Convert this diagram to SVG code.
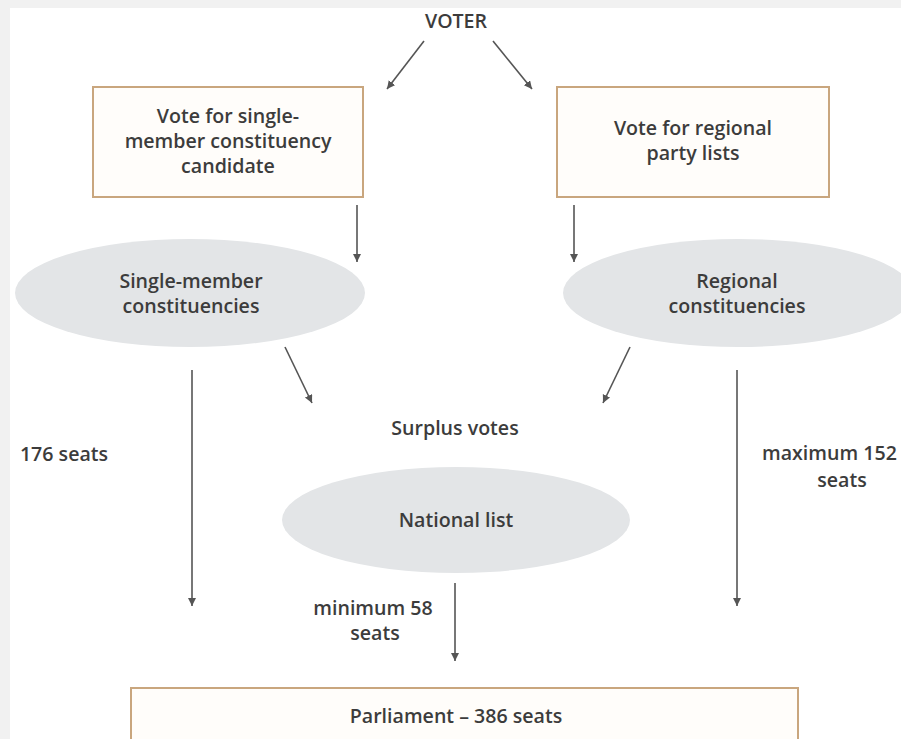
<svg xmlns="http://www.w3.org/2000/svg" width="901" height="739" viewBox="0 0 901 739">
<style>
text{font-family:"Open Sans","Liberation Sans",sans-serif;font-size:19.6px;font-weight:600;fill:#3c3c3c;text-anchor:middle}
.box{fill:#fffdfa;stroke:#c9a67e;stroke-width:2}
.ell{fill:#e3e5e7}
.conn{stroke:#555;stroke-width:1.6;fill:none;marker-end:url(#ah)}
</style>
<defs>
<marker id="ah" markerUnits="userSpaceOnUse" markerWidth="10" markerHeight="10" refX="8" refY="4" orient="auto">
<path d="M0,0 L8,4 L0,8 Z" fill="#555"/>
</marker>
</defs>
<rect x="0" y="0" width="901" height="739" fill="#f1f1f1"/>
<rect x="10" y="8" width="891" height="731" fill="#ffffff"/>
<g id="voter"><text x="456" y="28">VOTER</text></g>
<g id="box-single">
<rect class="box" x="93" y="87" width="270" height="110"/>
<text><tspan x="228" y="123">Vote for single-</tspan><tspan x="228" y="148">member constituency</tspan><tspan x="228" y="173">candidate</tspan></text>
</g>
<g id="box-regional">
<rect class="box" x="557" y="87" width="272" height="110"/>
<text><tspan x="693" y="135">Vote for regional</tspan><tspan x="693" y="160">party lists</tspan></text>
</g>
<g id="ell-single">
<ellipse class="ell" cx="190" cy="293" rx="175" ry="54"/>
<text><tspan x="191" y="288">Single-member</tspan><tspan x="191" y="313">constituencies</tspan></text>
</g>
<g id="ell-regional">
<ellipse class="ell" cx="738" cy="293" rx="175" ry="54"/>
<text><tspan x="737" y="288">Regional</tspan><tspan x="737" y="313">constituencies</tspan></text>
</g>
<g id="surplus"><text x="455" y="435">Surplus votes</text></g>
<g id="ell-national">
<ellipse class="ell" cx="456" cy="520" rx="174" ry="53"/>
<text x="456" y="527">National list</text>
</g>
<g id="lbl-176"><text x="64" y="461">176 seats</text></g>
<g id="lbl-max">
<text><tspan x="762" y="460" style="text-anchor:start">maximum 152</tspan><tspan x="842" y="487">seats</tspan></text>
</g>
<g id="lbl-min">
<text><tspan x="373" y="615">minimum 58</tspan><tspan x="375" y="640">seats</tspan></text>
</g>
<g id="parliament">
<rect class="box" x="131" y="688" width="667" height="60"/>
<text x="456" y="723">Parliament – 386 seats</text>
</g>
<g id="connectors">
<line class="conn" x1="424" y1="41" x2="387" y2="89"/>
<line class="conn" x1="493" y1="41" x2="532" y2="89"/>
<line class="conn" x1="357" y1="205" x2="357" y2="262"/>
<line class="conn" x1="574" y1="205" x2="574" y2="262"/>
<line class="conn" x1="285" y1="347" x2="312" y2="403"/>
<line class="conn" x1="630" y1="347" x2="603" y2="403"/>
<line class="conn" x1="192" y1="370" x2="192" y2="606"/>
<line class="conn" x1="737" y1="370" x2="737" y2="606"/>
<line class="conn" x1="455" y1="583" x2="455" y2="661"/>
</g>
</svg>
